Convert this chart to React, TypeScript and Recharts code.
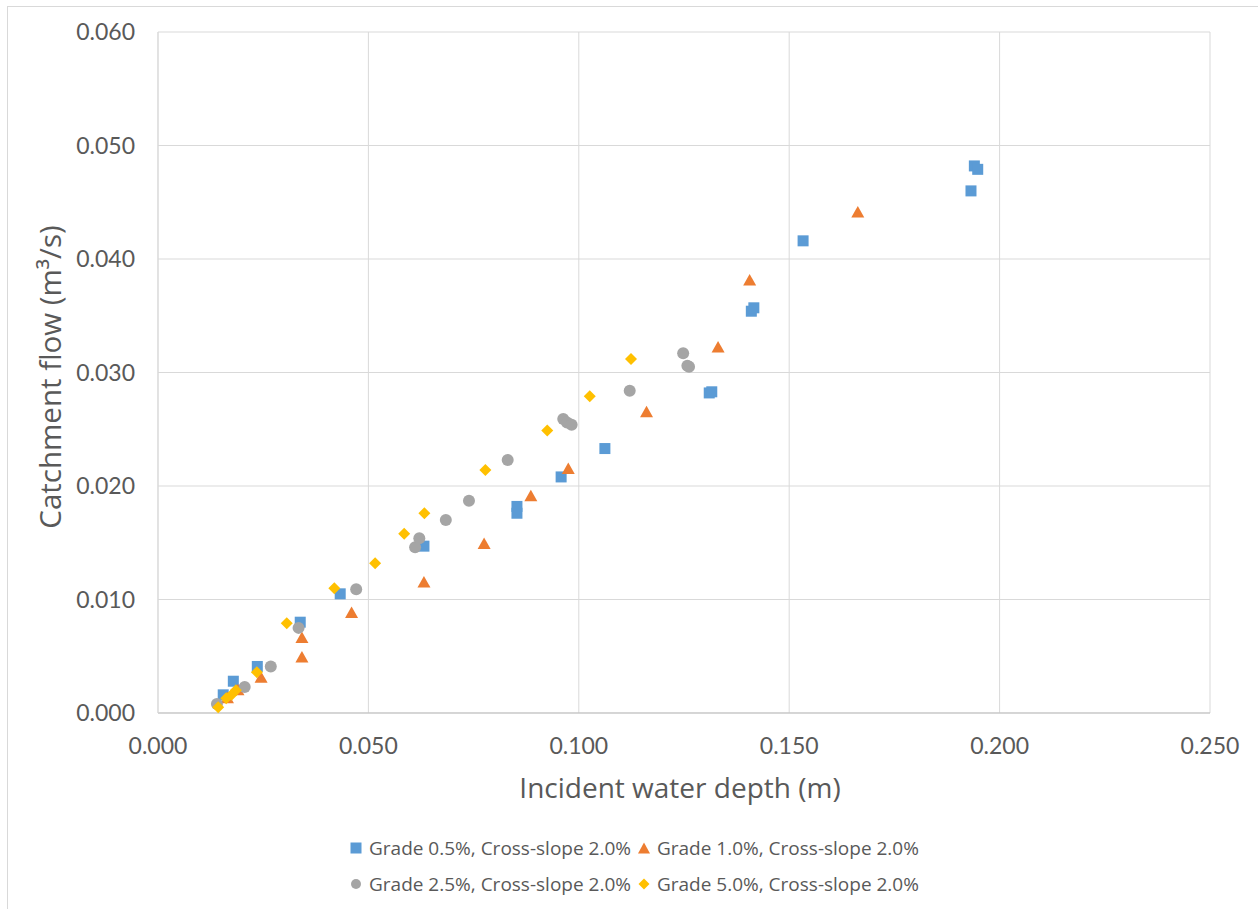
import React from "react";
import { ScatterChart, Scatter, XAxis, YAxis, CartesianGrid, Label } from "recharts";

// Incident water depth (m) / catchment flow (m3/s)
const grade05Depth = [0.0155, 0.0179, 0.0236, 0.0338, 0.0433, 0.0632, 0.0853, 0.0853, 0.0958, 0.1062, 0.131, 0.1316, 0.141, 0.1416, 0.1533, 0.1932, 0.194, 0.1948];
const grade05Flow = [0.0016, 0.0028, 0.0041, 0.008, 0.0105, 0.0147, 0.0182, 0.0176, 0.0208, 0.0233, 0.0282, 0.0283, 0.0354, 0.0357, 0.0416, 0.046, 0.0482, 0.0479];

const grade10Depth = [0.0165, 0.019, 0.0245, 0.0342, 0.0342, 0.046, 0.0632, 0.0775, 0.0886, 0.0975, 0.1161, 0.1331, 0.1406, 0.1663];
const grade10Flow = [0.0013, 0.002, 0.0031, 0.0049, 0.0066, 0.0088, 0.0115, 0.0149, 0.0191, 0.0215, 0.0265, 0.0322, 0.0381, 0.0441];

const grade25Depth = [0.014, 0.0206, 0.0268, 0.0334, 0.0471, 0.0611, 0.0621, 0.0684, 0.0739, 0.0831, 0.0963, 0.0972, 0.0983, 0.1121, 0.1248, 0.1258, 0.1262];
const grade25Flow = [0.0008, 0.0023, 0.0041, 0.0075, 0.0109, 0.0146, 0.0154, 0.017, 0.0187, 0.0223, 0.0259, 0.0256, 0.0254, 0.0284, 0.0317, 0.0306, 0.0305];

const grade50Depth = [0.0143, 0.0162, 0.0175, 0.0185, 0.0235, 0.0306, 0.0419, 0.0516, 0.0585, 0.0633, 0.0778, 0.0925, 0.1026, 0.1124];
const grade50Flow = [0.0005, 0.0013, 0.0016, 0.002, 0.0036, 0.0079, 0.011, 0.0132, 0.0158, 0.0176, 0.0214, 0.0249, 0.0279, 0.0312];

const xTicks = [0, 0.05, 0.1, 0.15, 0.2, 0.25];
const yTicks = [0, 0.01, 0.02, 0.03, 0.04, 0.05, 0.06];

const seriesNames = [
  "Grade 0.5%, Cross-slope 2.0%",
  "Grade 1.0%, Cross-slope 2.0%",
  "Grade 2.5%, Cross-slope 2.0%",
  "Grade 5.0%, Cross-slope 2.0%",
];

const toPoints = (xs: number[], ys: number[]) => xs.map((x, i) => ({ x, y: ys[i] }));

const BLUE = "#5B9BD5";
const ORANGE = "#ED7D31";
const GRAY = "#A5A5A5";
const GOLD = "#FFC000";
const TEXT = "#595959";
const FONT = "Lato, 'Open Sans', sans-serif";
const TITLE_FONT = "'Open Sans', Lato, sans-serif";

const squareShape = (p: any) => <rect x={p.cx - 5.5} y={p.cy - 5.5} width={11} height={11} fill={BLUE} />;
const triangleShape = (p: any) => (
  <path d={`M${p.cx},${p.cy - 6.5} L${p.cx + 6.5},${p.cy + 5} L${p.cx - 6.5},${p.cy + 5} Z`} fill={ORANGE} />
);
const circleShape = (p: any) => <circle cx={p.cx} cy={p.cy} r={6} fill={GRAY} />;
const diamondShape = (p: any) => (
  <path d={`M${p.cx},${p.cy - 6} L${p.cx + 6},${p.cy} L${p.cx},${p.cy + 6} L${p.cx - 6},${p.cy} Z`} fill={GOLD} />
);

function LegendMark({ kind }: { kind: number }) {
  return (
    <svg width={14} height={14} style={{ marginRight: 6 }}>
      {kind === 0 && <rect x={1.5} y={1.5} width={11} height={11} fill={BLUE} />}
      {kind === 1 && <path d="M7,1.5 L13,12.5 L1,12.5 Z" fill={ORANGE} />}
      {kind === 2 && <circle cx={7} cy={7} r={5} fill={GRAY} />}
      {kind === 3 && <path d="M7,1.5 L12.5,7 L7,12.5 L1.5,7 Z" fill={GOLD} />}
    </svg>
  );
}

function LegendRow({ items, top }: { items: number[]; top: number }) {
  return (
    <div style={{ position: "absolute", left: 349, top, display: "flex", alignItems: "center", fontFamily: TITLE_FONT, fontSize: 19, color: TEXT, whiteSpace: "nowrap", lineHeight: "20px" }}>
      {items.map((k) => (
        <div key={k} style={{ display: "flex", alignItems: "center", marginRight: 6 }}>
          <LegendMark kind={k} />
          <span>{seriesNames[k]}</span>
        </div>
      ))}
    </div>
  );
}

export default function App() {
  return (
    <div style={{ position: "absolute", left: 0, top: 0, width: 1258, height: 909, background: "#fff" }}>
      <div style={{ position: "absolute", left: 7, top: 6, width: 1251, height: 903, borderLeft: "1px solid #d9d9d9", borderTop: "1px solid #d9d9d9", boxSizing: "border-box" }} />
      <ScatterChart width={1258} height={909} margin={{ top: 32, right: 48, bottom: 0, left: 0 }} style={{ position: "absolute", left: 0, top: 0 }}>
        <CartesianGrid stroke="#d9d9d9" strokeWidth={1} />
        <XAxis
          type="number"
          dataKey="x"
          domain={[0, 0.25]}
          ticks={xTicks}
          tickFormatter={(v: number) => v.toFixed(3)}
          tick={{ fill: TEXT, fontSize: 23, fontFamily: FONT }}
          tickLine={false}
          tickSize={0}
          tickMargin={25}
          axisLine={{ stroke: "#bfbfbf" }}
          height={196}
        >
          <Label
            content={({ viewBox }: any) => (
              <text x={viewBox.x + viewBox.width / 2 - 4} y={798} textAnchor="middle" fill={TEXT} fontSize={28} fontFamily={TITLE_FONT}>
                Incident water depth (m)
              </text>
            )}
          />
        </XAxis>
        <YAxis
          type="number"
          dataKey="y"
          domain={[0, 0.06]}
          ticks={yTicks}
          tickFormatter={(v: number) => v.toFixed(3)}
          tick={{ fill: TEXT, fontSize: 23, fontFamily: FONT }}
          tickLine={false}
          tickSize={0}
          tickMargin={23}
          axisLine={{ stroke: "#d9d9d9" }}
          width={158}
        >
          <Label
            content={() => (
              <text x={0} y={0} transform="translate(61,377) rotate(-90)" textAnchor="middle" fill={TEXT} fontSize={29.5} fontFamily={TITLE_FONT}>
                Catchment flow (m³/s)
              </text>
            )}
          />
        </YAxis>
        <Scatter name={seriesNames[0]} data={toPoints(grade05Depth, grade05Flow)} fill={BLUE} shape={squareShape} isAnimationActive={false} />
        <Scatter name={seriesNames[1]} data={toPoints(grade10Depth, grade10Flow)} fill={ORANGE} shape={triangleShape} isAnimationActive={false} />
        <Scatter name={seriesNames[2]} data={toPoints(grade25Depth, grade25Flow)} fill={GRAY} shape={circleShape} isAnimationActive={false} />
        <Scatter name={seriesNames[3]} data={toPoints(grade50Depth, grade50Flow)} fill={GOLD} shape={diamondShape} isAnimationActive={false} />
      </ScatterChart>
      <LegendRow items={[0, 1]} top={838} />
      <LegendRow items={[2, 3]} top={874} />
    </div>
  );
}
